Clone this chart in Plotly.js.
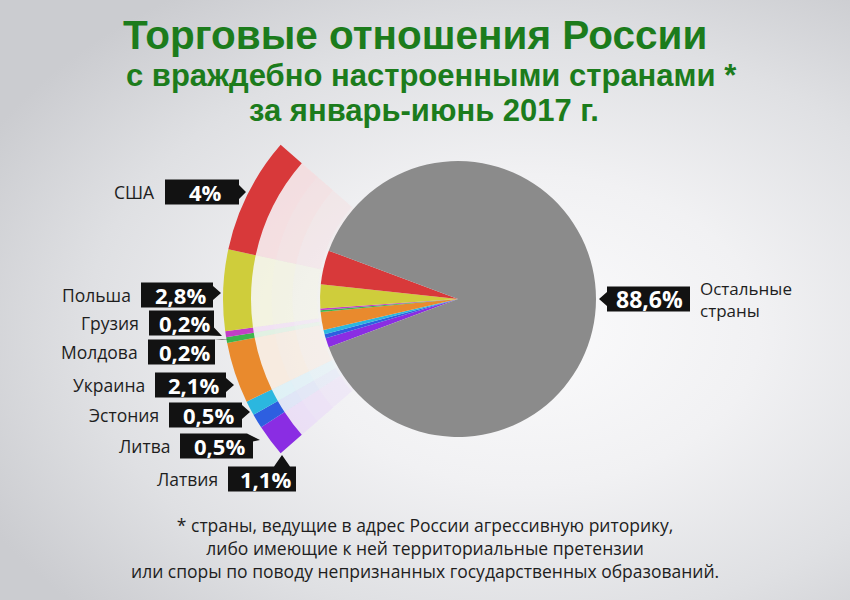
<!DOCTYPE html>
<html><head><meta charset="utf-8">
<script src="https://cdn.plot.ly/plotly-3.0.1.min.js"></script>
<style>
html,body{margin:0;padding:0;width:850px;height:600px;overflow:hidden;
background: radial-gradient(ellipse 72% 68% at 62% 55%, #fbfbfc 0%, #f1f1f3 38%, #dfe0e3 72%, #cbccd0 100%);}
#chart{width:850px;height:600px;}
</style></head><body><div id="chart"></div>
<script>
// ---- data ----
const countries = ['США','Польша','Грузия','Молдова','Украина','Эстония','Литва','Латвия'];
const shares = [4, 2.8, 0.2, 0.2, 2.1, 0.5, 0.5, 1.1];
const shareLabels = ['4%','2,8%','0,2%','0,2%','2,1%','0,5%','0,5%','1,1%'];
const otherName = 'Остальные<br>страны';
const otherShare = 88.6;
const otherLabel = '88,6%';
const titleLines = ['Торговые отношения России','с враждебно настроенными странами *','за январь-июнь 2017 г.'];
const noteLines = ['* страны, ведущие в адрес России агрессивную риторику,','либо имеющие к ней территориальные претензии','или споры по поводу непризнанных государственных образований.'];

// ---- styles ----
const colors = ['#d8393a','#cfcd3b','#c23fc6','#3db54c','#e98a2d','#2bb7df','#2e5fe0','#8a2de3'];
const grey = '#8b8b8b';
const W=850,H=600,cx=458,cy=299;
const rPie=138, rRingIn=207, rRingOut=235, ringSpan=82;
// label box positions (pixels): [x0,x1,yMid, pointer tip x, tip y]
const boxes = [
 [165,239,192,246,192],
 [141,213,295,221,293],
 [149,214,323,222,336],
 [148,215,352,222,339],
 [155,226,385,234,385],
 [169,242,415,250,412],
 [180,253,446,260,440],
 [228,296,479,282,455]
];
const boxH = 25;
// title line layout: [x centre, y centre, font size]
const titlePos = [[415,35,40.5],[432,75,31],[424,110,31]];

function dom(r){ return {x:[(cx-r)/W,(cx+r)/W], y:[(H-cy-r)/H,(H-cy+r)/H]}; }
function px(x){return x/W;} function py(y){return 1-y/H;}
function tint(hex,t,a){
  const n=parseInt(hex.slice(1),16); const r=n>>16,g=(n>>8)&255,b=n&255;
  const m=v=>Math.round(v+(255-v)*t);
  return `rgba(${m(r)},${m(g)},${m(b)},${a})`;
}

const rev = a => a.slice().reverse();
const sumShares = shares.reduce((s,v)=>s+v,0);
const ringRest = sumShares*(360/ringSpan-1);

const traces = [];
// glow fan between pie and ring
[[0.56,0.18],[0.68,0.24],[0.80,0.3],[0.9,0.32]].forEach(([hole,a])=>{
  traces.push({type:'pie', values:[...rev(shares), ringRest], labels:[...rev(countries).map(c=>'g'+hole+c),'grest'+hole],
    marker:{colors:[...rev(colors).map(c=>tint(c,0.82,a)),'rgba(0,0,0,0)'], line:{width:0}},
    sort:false, direction:'clockwise', rotation:270-ringSpan/2, hole:hole, textinfo:'none', hoverinfo:'skip',
    domain:dom(rRingIn), showlegend:false});
});
// main pie
traces.push({type:'pie', values:[...rev(shares), otherShare], labels:[...rev(countries),'Остальные страны'],
  marker:{colors:[...rev(colors), grey], line:{width:0}},
  sort:false, direction:'clockwise', rotation:270-sumShares*3.6/2, textinfo:'none', hoverinfo:'label+percent',
  domain:dom(rPie), showlegend:false});
// outer ring
traces.push({type:'pie', values:[...rev(shares), ringRest], labels:[...rev(countries).map(c=>'r'+c),'rrest'],
  marker:{colors:[...rev(colors),'rgba(0,0,0,0)'], line:{width:0}},
  sort:false, direction:'clockwise', rotation:270-ringSpan/2, hole:rRingIn/rRingOut, textinfo:'none', hoverinfo:'skip',
  domain:dom(rRingOut), showlegend:false});

const annotations = [];
const shapes = [];
const green = '#1c7c1c';
titleLines.forEach((t,i)=>{
  const [x,y,s]=titlePos[i];
  annotations.push({text:t, x:px(x), y:py(y), xref:'paper', yref:'paper', showarrow:false, xanchor:'center', yanchor:'middle',
    font:{family:'Liberation Sans, Arial, sans-serif', size:s, color:green, weight:'bold'}});
});
annotations.push({text:noteLines.join('<br>'), x:px(425), y:py(511), xref:'paper', yref:'paper', showarrow:false, xanchor:'center', yanchor:'top', align:'center',
  font:{family:'Open Sans, sans-serif', size:17.5, color:'#1e1e1e'}});

function boxPath(x0,x1,ym,tx,ty){
  const y0=ym-boxH/2, y1=ym+boxH/2;
  let pts;
  if(tx<x0){ // pointer left
    pts=[[x0,y0],[x1,y0],[x1,y1],[x0,y1],[x0,ty+7],[tx,ty],[x0,ty-7]];
  } else if(ty<y0){ // pointer up
    pts=[[x0,y0],[tx-8,y0],[tx,ty],[tx+8,y0],[x1,y0],[x1,y1],[x0,y1]];
  } else if(ty>y1-3 && ty>ym+6){ // pointer down-right
    pts=[[x0,y0],[x1,y0],[x1,y1-8],[tx,ty],[x1-6,y1],[x0,y1]];
  } else if(ty<ym-4){ // pointer up-right
    pts=[[x0,y0],[x1-6,y0],[tx,ty],[x1,y0+8],[x1,y1],[x0,y1]];
  } else {
    pts=[[x0,y0],[x1,y0],[x1,ty-7],[tx,ty],[x1,ty+7],[x1,y1],[x0,y1]];
  }
  return 'M'+pts.map(p=>px(p[0])+','+py(p[1])).join('L')+'Z';
}

countries.forEach((c,i)=>{
  const [x0,x1,ym,tx,ty]=boxes[i];
  shapes.push({type:'path', xref:'paper', yref:'paper', path:boxPath(x0,x1,ym,tx,ty), fillcolor:'#121212', line:{width:0}, layer:'above'});
  annotations.push({text:shareLabels[i], x:px((x0+x1)/2+3), y:py(ym), xref:'paper', yref:'paper', showarrow:false, xanchor:'center', yanchor:'middle',
    font:{family:'Open Sans, sans-serif', size:22, color:'#ffffff', weight:'bold'}});
  annotations.push({text:c, x:px(x0-8), y:py(ym), xref:'paper', yref:'paper', showarrow:false, xanchor:'right', yanchor:'middle',
    font:{family:'Open Sans, sans-serif', size:17.5, color:'#1e1e1e'}});
});
// other countries label
shapes.push({type:'path', xref:'paper', yref:'paper', path:boxPath(607,690,299,599,299), fillcolor:'#121212', line:{width:0}, layer:'above'});
annotations.push({text:otherLabel, x:px(649), y:py(299), xref:'paper', yref:'paper', showarrow:false, xanchor:'center', yanchor:'middle',
  font:{family:'Open Sans, sans-serif', size:23, color:'#ffffff', weight:'bold'}});
annotations.push({text:otherName, x:px(698), y:py(299), xref:'paper', yref:'paper', showarrow:false, xanchor:'left', yanchor:'middle', align:'left',
  font:{family:'Open Sans, sans-serif', size:17, color:'#1e1e1e'}});

Plotly.newPlot('chart', traces, {
  width:W, height:H, margin:{l:0,r:0,t:0,b:0},
  paper_bgcolor:'rgba(0,0,0,0)', plot_bgcolor:'rgba(0,0,0,0)',
  showlegend:false, annotations, shapes
}, {displayModeBar:false});
</script></body></html>
